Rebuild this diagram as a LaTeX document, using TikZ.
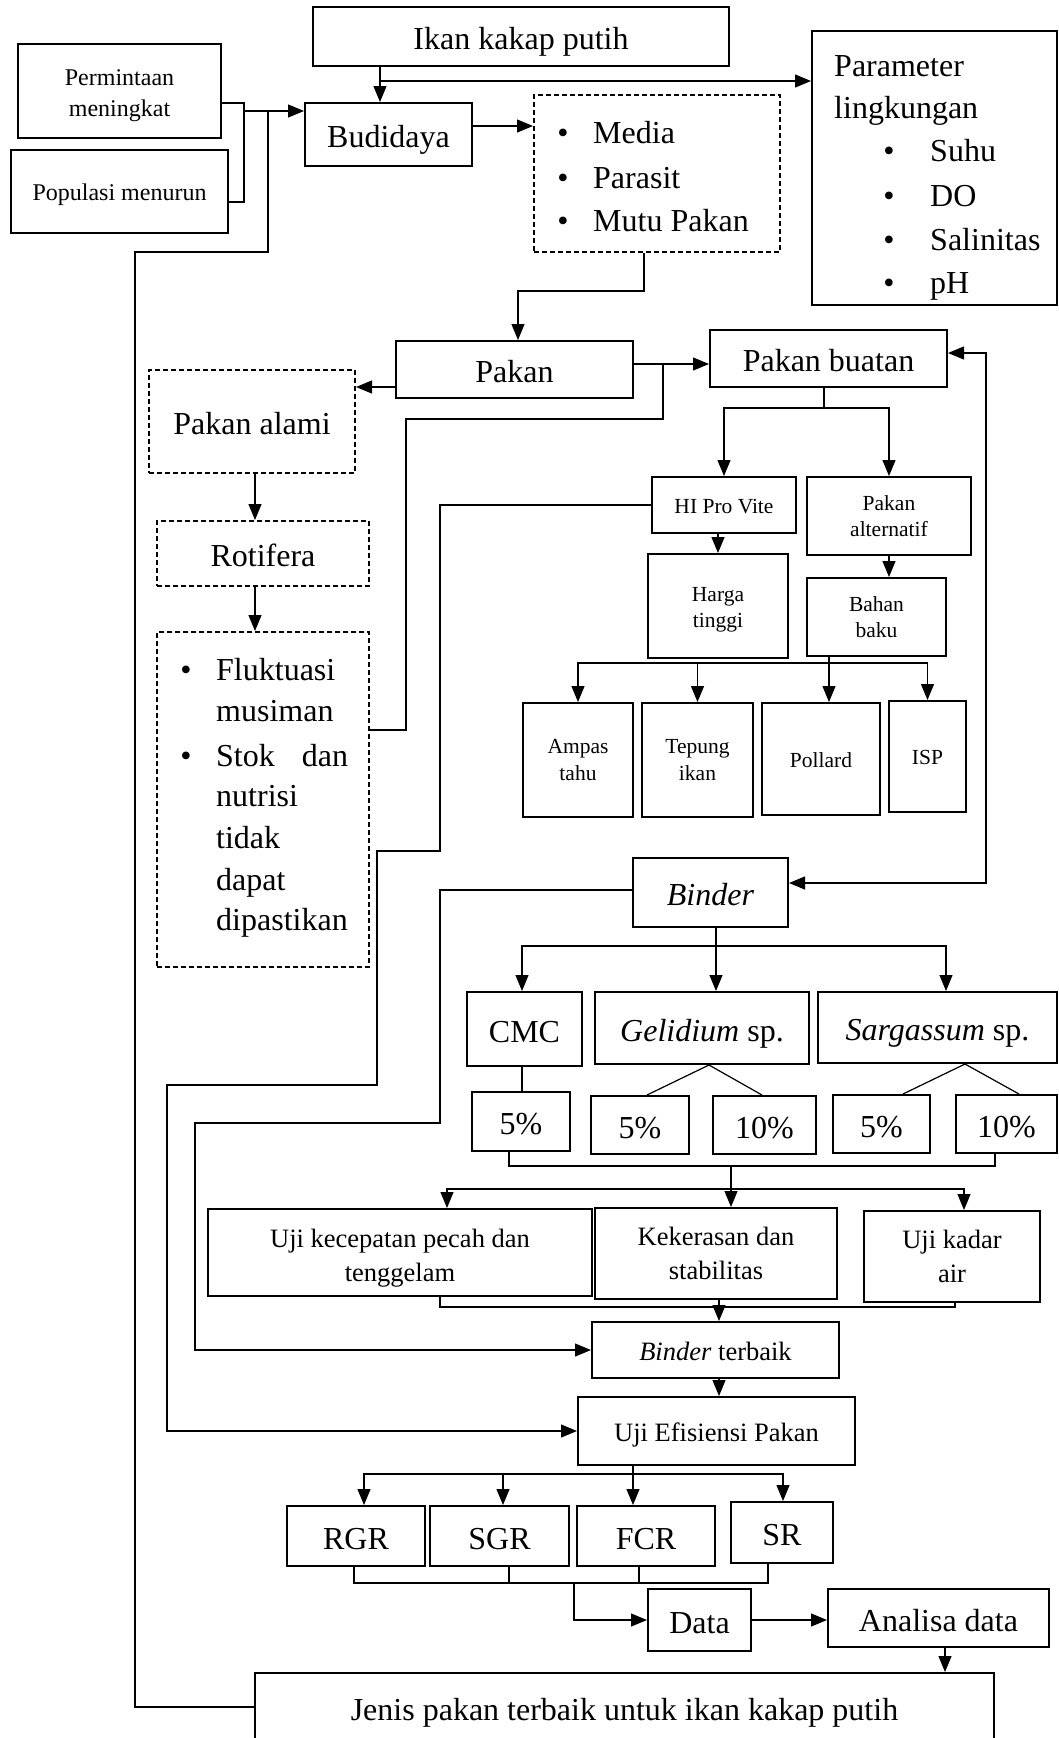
\documentclass[tikz,border=0pt]{standalone}
\usepackage{fontspec}
\setmainfont{Liberation Serif}
\usetikzlibrary{arrows.meta}
\newcommand{\besar}{\fontsize{32}{40}\selectfont}
\newcommand{\sedang}{\fontsize{26.5}{34}\selectfont}
\newcommand{\kecil}{\fontsize{21.5}{26.5}\selectfont}
\newcommand{\awal}{\fontsize{24}{31}\selectfont}
\tikzset{
  kotak/.style={draw,line width=2pt,inner sep=0pt,align=center},
  putus/.style={kotak,dash pattern=on 5pt off 3pt},
  teksbesar/.style={font=\besar,text height=31pt,text depth=5pt,inner sep=0pt},
  tekssedang/.style={font=\sedang,text height=25pt,text depth=5pt,inner sep=0pt},
  tekskecil/.style={font=\kecil,text height=20.5pt,text depth=4.5pt,inner sep=0pt},
  teksawal/.style={font=\awal,text height=23pt,text depth=5pt,inner sep=0pt},
  garis/.style={line width=1.2pt},
  panah/.style={garis,-{Triangle[length=16pt,width=13pt]}},
  duapanah/.style={garis,{Triangle[length=16pt,width=13pt]}-{Triangle[length=16pt,width=13pt]}}
}
\begin{document}
\begin{tikzpicture}[x=1pt,y=-1pt]
\useasboundingbox (0,0) rectangle (1058,1738);

\node (ikan) at (521,36.5)[kotak,teksbesar,minimum width=416pt,minimum height=59pt] {Ikan kakap putih};
\node (permintaan) at (119.5,91)[kotak,font=\awal,minimum width=203pt,minimum height=94pt] {\raisebox{-4pt}[\height][\depth]{\begin{tabular}{@{}c@{}}Permintaan\\meningkat\end{tabular}}};
\node (populasi) at (119.5,191.5)[kotak,teksawal,minimum width=217pt,minimum height=83pt] {Populasi menurun};
\node (budidaya) at (388.5,134.5)[kotak,teksbesar,minimum width=167pt,minimum height=63pt] {Budidaya};
\node (faktor) at (657,173.5)[putus,minimum width=246pt,minimum height=157pt] {};
\foreach \y/\t [count=\i] in {130/Media,175/Parasit,218/Mutu Pakan} {
  \node (titikf\i) at (563,\y)[teksbesar] {\textbullet};
  \node (isif\i) at (593,\y)[teksbesar,anchor=west] {\t};
}
\node (parameter) at (934.5,168)[kotak,minimum width=245pt,minimum height=274pt] {};
\node (judulp1) at (834,63)[teksbesar,anchor=west] {Parameter};
\node (judulp2) at (834,105)[teksbesar,anchor=west] {lingkungan};
\foreach \y/\t [count=\i] in {148/Suhu,193/DO,237/Salinitas,280/pH} {
  \node (titikp\i) at (889,\y)[teksbesar] {\textbullet};
  \node (isip\i) at (930,\y)[teksbesar,anchor=west] {\t};
}

\node (pakan) at (514.5,369.5)[kotak,teksbesar,minimum width=237pt,minimum height=57pt] {Pakan};
\node (alami) at (252,421.5)[putus,teksbesar,minimum width=206pt,minimum height=103pt] {Pakan alami};
\node (rotifera) at (263,553.5)[putus,teksbesar,minimum width=212pt,minimum height=65pt] {Rotifera};
\node (fluktuasi) at (263,799.5)[putus,minimum width=212pt,minimum height=335pt] {};
\node (titikk1) at (186,667)[teksbesar] {\textbullet};
\node (titikk2) at (186,753)[teksbesar] {\textbullet};
\node (isik1) at (216,667)[teksbesar,anchor=west] {Fluktuasi};
\node (isik2) at (216,708)[teksbesar,anchor=west] {musiman};
\node (isik3) at (216,753)[teksbesar,anchor=west] {\makebox[132pt][s]{Stok dan}};
\node (isik4) at (216,793)[teksbesar,anchor=west] {nutrisi};
\node (isik5) at (216,835)[teksbesar,anchor=west] {tidak};
\node (isik6) at (216,877)[teksbesar,anchor=west] {dapat};
\node (isik7) at (216,917)[teksbesar,anchor=west] {dipastikan};

\node (buatan) at (828.5,358.5)[kotak,teksbesar,minimum width=237pt,minimum height=57pt] {Pakan buatan};
\node (hipro) at (724,505)[kotak,tekskecil,minimum width=144pt,minimum height=56pt] {HI Pro Vite};
\node (alternatif) at (889,516)[kotak,font=\kecil,minimum width=164pt,minimum height=78pt] {Pakan\\alternatif};
\node (harga) at (718,606)[kotak,font=\kecil,minimum width=140pt,minimum height=104pt] {\raisebox{-3pt}[\height][\depth]{\begin{tabular}{@{}c@{}}Harga\\tinggi\end{tabular}}};
\node (bahan) at (876.5,617)[kotak,font=\kecil,minimum width=139pt,minimum height=78pt] {Bahan\\baku};
\node (ampas) at (578,760)[kotak,font=\kecil,minimum width=110pt,minimum height=114pt] {Ampas\\tahu};
\node (tepung) at (697.5,760)[kotak,font=\kecil,minimum width=111pt,minimum height=114pt] {Tepung\\ikan};
\node (pollard) at (821,759)[kotak,tekskecil,minimum width=118pt,minimum height=112pt] {Pollard};
\node (isp) at (927.5,756.5)[kotak,tekskecil,minimum width=77pt,minimum height=111pt] {ISP};

\node (binder) at (710.5,892.5)[kotak,teksbesar,minimum width=155pt,minimum height=69pt] {\textit{Binder}};
\node (cmc) at (524.5,1029)[kotak,teksbesar,minimum width=115pt,minimum height=74pt] {CMC};
\node (gelidium) at (702,1028)[kotak,teksbesar,minimum width=214pt,minimum height=72pt] {\textit{Gelidium} sp.};
\node (sargassum) at (937.5,1027.5)[kotak,teksbesar,minimum width=239pt,minimum height=71pt] {\textit{Sargassum} sp.};
\node (cmcA) at (521,1121.5)[kotak,teksbesar,minimum width=98pt,minimum height=59pt] {5\%};
\node (gelA) at (640,1125)[kotak,teksbesar,minimum width=98pt,minimum height=58pt] {5\%};
\node (gelB) at (764.5,1125)[kotak,teksbesar,minimum width=103pt,minimum height=58pt] {10\%};
\node (sarA) at (881.5,1124)[kotak,teksbesar,minimum width=97pt,minimum height=58pt] {5\%};
\node (sarB) at (1006.5,1124)[kotak,teksbesar,minimum width=101pt,minimum height=58pt] {10\%};

\node (ujipecah) at (400,1252.5)[kotak,font=\sedang,minimum width=384pt,minimum height=87pt] {\raisebox{-5pt}[\height][\depth]{\begin{tabular}{@{}c@{}}Uji kecepatan pecah dan\\tenggelam\end{tabular}}};
\node (keras) at (716,1253.5)[kotak,font=\sedang,minimum width=242pt,minimum height=91pt] {Kekerasan dan\\stabilitas};
\node (kadar) at (952,1256.5)[kotak,font=\sedang,minimum width=176pt,minimum height=91pt] {Uji kadar\\air};
\node (terbaik) at (715.5,1350)[kotak,tekssedang,minimum width=247pt,minimum height=56pt] {\textit{Binder} terbaik};
\node (efisiensi) at (716.5,1431)[kotak,tekssedang,minimum width=277pt,minimum height=68pt] {Uji Efisiensi Pakan};
\node (rgr) at (356,1536)[kotak,teksbesar,minimum width=138pt,minimum height=60pt] {RGR};
\node (sgr) at (499.5,1536)[kotak,teksbesar,minimum width=139pt,minimum height=60pt] {SGR};
\node (fcr) at (646,1536)[kotak,teksbesar,minimum width=138pt,minimum height=60pt] {FCR};
\node (sr) at (782,1532.5)[kotak,teksbesar,minimum width=102pt,minimum height=61pt] {SR};
\node (data) at (699.5,1620)[kotak,teksbesar,minimum width=103pt,minimum height=62pt] {Data};
\node (analisa) at (938.5,1618)[kotak,teksbesar,minimum width=221pt,minimum height=58pt] {Analisa data};
\node (jenis) at (624.5,1707)[kotak,teksbesar,minimum width=739pt,minimum height=68pt] {Jenis pakan terbaik untuk ikan kakap putih};

\coordinate (simpul1) at (244,111);
\coordinate (cabang1) at (380,81);
\coordinate (cabang2) at (663,364);
\coordinate (cabang3) at (824,408);
\coordinate (cabang4) at (829,663);
\coordinate (cabang5) at (716,946);
\coordinate (kumpul1) at (731,1166);
\coordinate (cabang6) at (731,1189);
\coordinate (kumpul2) at (719,1307);
\coordinate (cabang7) at (633,1474);
\coordinate (kumpul3) at (574,1583);

\draw [garis] (permintaan.east |- 0,103) -- (244,103) -- (244,202) -- (populasi.east |- 0,202);
\draw [panah] (simpul1) -- (budidaya.west |- simpul1);
\draw [panah] (ikan.south -| cabang1) -- (budidaya.north -| cabang1);
\draw [panah] (cabang1) -- (parameter.west |- cabang1);
\draw [panah] (budidaya.east |- 0,126) -- (faktor.west |- 0,126);
\draw [panah] (faktor.south -| 644,0) -- (644,291) -| (pakan.north -| 518,0);
\draw [panah] (pakan.west |- 0,387) -- (alami.east |- 0,387);
\draw [panah] (alami.south -| 255,0) -- (rotifera.north -| 255,0);
\draw [panah] (rotifera.south -| 255,0) -- (fluktuasi.north -| 255,0);
\draw [panah] (pakan.east |- cabang2) -- (buatan.west |- cabang2);
\draw [garis] (fluktuasi.east |- 0,730) -- (406,730) -- (406,419) -- (663,419) -- (cabang2);
\draw [garis] (buatan.south -| cabang3) -- (cabang3);
\draw [panah] (cabang3) -| (hipro.north);
\draw [panah] (cabang3) -| (alternatif.north);
\draw [panah] (hipro.south -| harga.north) -- (harga.north);
\draw [panah] (alternatif.south) -- (alternatif.south |- bahan.north);
\draw [garis] (bahan.south -| cabang4) -- (cabang4);
\draw [panah] (cabang4) -| (ampas.north);
\draw [panah] (cabang4) -| (tepung.north);
\draw [panah] (cabang4) -- (pollard.north -| cabang4);
\draw [panah] (cabang4) -| (isp.north);
\draw [duapanah] (buatan.east |- 0,353) -- (986,353) -- (986,883) -- (binder.east |- 0,883);
\draw [panah] (hipro.west) -- (440,505) -- (440,851) -- (377,851) -- (377,1085) -- (167,1085) -- (167,1431) -- (efisiensi.west);
\draw [panah] (binder.west |- 0,890) -- (440,890) -- (440,1123) -- (195,1123) -- (195,1350) -- (terbaik.west);
\draw [garis] (binder.south -| cabang5) -- (cabang5);
\draw [panah] (cabang5) -| (cmc.north -| 522,0);
\draw [panah] (cabang5) -- (gelidium.north -| cabang5);
\draw [panah] (cabang5) -| (sargassum.north -| 946,0);
\draw [garis] (cmc.south -| 522,0) -- (cmcA.north -| 522,0);
\draw [garis] (gelidium.south -| 709,0) -- (gelA.north -| 647,0);
\draw [garis] (gelidium.south -| 709,0) -- (gelB.north -| 762,0);
\draw [garis] (sargassum.south -| 965,0) -- (sarA.north -| 903,0);
\draw [garis] (sargassum.south -| 965,0) -- (sarB.north -| 1019,0);
\draw [garis] (cmcA.south -| 509,0) -- (509,1166) -- (995,1166) -- (sarB.south -| 995,0);
\draw [garis] (kumpul1) -- (cabang6);
\draw [panah] (cabang6) -| (ujipecah.north -| 447,0);
\draw [panah] (cabang6) -- (keras.north -| cabang6);
\draw [panah] (cabang6) -| (kadar.north -| 964,0);
\draw [garis] (ujipecah.south -| 440,0) -- (440,1307) -- (955,1307) -- (kadar.south -| 955,0);
\draw [garis] (keras.south -| kumpul2) -- (kumpul2);
\draw [panah] (kumpul2) -- (terbaik.north -| kumpul2);
\draw [panah] (terbaik.south -| kumpul2) -- (efisiensi.north -| kumpul2);
\draw [garis] (efisiensi.south -| cabang7) -- (cabang7);
\draw [panah] (cabang7) -| (rgr.north -| 364,0);
\draw [panah] (cabang7) -| (sgr.north -| 503,0);
\draw [panah] (cabang7) -- (fcr.north -| cabang7);
\draw [panah] (cabang7) -| (sr.north -| 783,0);
\draw [garis] (rgr.south -| 354,0) -- (354,1583) -- (768,1583) -- (sr.south -| 768,0);
\draw [garis] (sgr.south -| 509,0) -- (509,1583);
\draw [garis] (fcr.south -| 639,0) -- (639,1583);
\draw [panah] (kumpul3) |- (data.west);
\draw [panah] (data.east) -- (analisa.west |- data.east);
\draw [panah] (analisa.south -| 945,0) -- (jenis.north -| 945,0);
\draw [garis] (jenis.west) -- (135,1707) -- (135,252) -- (268,252) -- (simpul1 -| 268,0);
\end{tikzpicture}
\end{document}
